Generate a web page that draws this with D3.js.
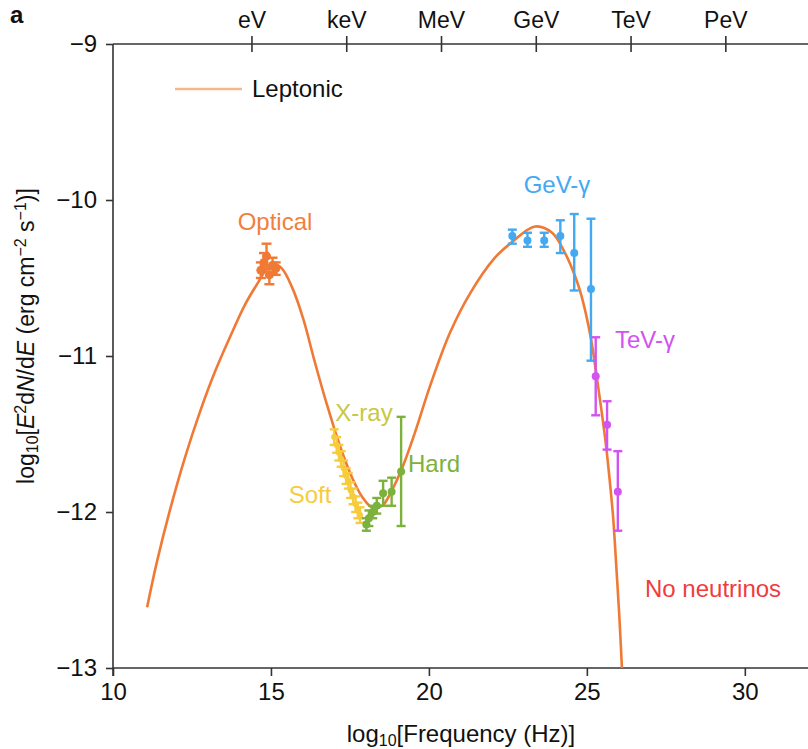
<!DOCTYPE html>
<html>
<head>
<meta charset="utf-8">
<script src="https://cdn.jsdelivr.net/npm/d3@7"></script>
<style>
  html, body { margin: 0; padding: 0; background: #fff; }
  svg { display: block; font-family: "Liberation Sans", Arial, Helvetica, sans-serif; }
</style>
</head>
<body>
<svg id="chart" width="808" height="749"></svg>
<script>
// Leptonic SED model curve (log10 frequency, log10 flux)
const modelLogNu   = [11.08, 11.39, 11.80, 12.28, 12.75, 13.23, 13.70, 14.18, 14.59, 14.84, 15.10, 15.35, 15.67, 16.02, 16.39, 16.77, 17.19, 17.57, 17.88, 18.20, 18.52, 18.83, 19.15, 19.56, 20.04, 20.67, 21.30, 22.09, 22.63, 23.36, 23.90, 24.31, 24.63, 24.78, 24.97, 25.13, 25.29, 25.45, 25.61, 25.73, 25.83, 25.92, 26.02, 26.11];
const modelLogFlux = [-12.61, -12.32, -11.99, -11.65, -11.36, -11.10, -10.88, -10.67, -10.53, -10.45, -10.41, -10.44, -10.56, -10.76, -11.04, -11.31, -11.58, -11.78, -11.90, -11.97, -11.96, -11.86, -11.72, -11.49, -11.19, -10.85, -10.60, -10.37, -10.27, -10.17, -10.21, -10.34, -10.49, -10.58, -10.73, -10.89, -11.10, -11.33, -11.58, -11.81, -12.03, -12.31, -12.64, -13.00];

// Optical photometry
const opticalLogNu   = [14.68, 14.78, 14.86, 14.95, 15.05, 15.15];
const opticalLogFlux = [-10.45, -10.40, -10.36, -10.48, -10.42, -10.44];
const opticalErr     = [0.05, 0.06, 0.08, 0.06, 0.05, 0.04];

// Soft X-ray
const softLogNu   = [17.00, 17.08, 17.15, 17.22, 17.30, 17.38, 17.45, 17.52, 17.60, 17.68, 17.75, 17.82];
const softLogFlux = [-11.52, -11.57, -11.62, -11.66, -11.72, -11.77, -11.80, -11.86, -11.90, -11.95, -11.99, -12.02];
const softErr     = [0.05, 0.05, 0.05, 0.05, 0.05, 0.05, 0.05, 0.05, 0.05, 0.05, 0.05, 0.05];

// Hard X-ray
const hardLogNu   = [18.02, 18.10, 18.22, 18.35, 18.55, 18.82, 19.12];
const hardLogFlux = [-12.08, -12.04, -12.00, -11.96, -11.88, -11.87, -11.74];
const hardErr     = [0.04, 0.05, 0.04, 0.05, 0.08, 0.09, 0.35];

// GeV gamma rays
const gevLogNu   = [22.64, 23.12, 23.65, 24.16, 24.60, 25.13];
const gevLogFlux = [-10.23, -10.26, -10.26, -10.23, -10.34, -10.57];
const gevErrLo   = [0.05, 0.04, 0.04, 0.11, 0.24, 0.46];
const gevErrHi   = [0.04, 0.05, 0.05, 0.10, 0.25, 0.45];

// TeV gamma rays
const tevLogNu   = [25.28, 25.64, 25.98];
const tevLogFlux = [-11.13, -11.44, -11.87];
const tevErrLo   = [0.25, 0.16, 0.25];
const tevErrHi   = [0.25, 0.15, 0.26];

// Axis ticks
const xTicks = [10, 15, 20, 25, 30];
const yTicks = [-9, -10, -11, -12, -13];
const energyLabels = ["eV", "keV", "MeV", "GeV", "TeV", "PeV"];
const energyLogNu  = [14.383, 17.383, 20.383, 23.383, 26.383, 29.383];

const colors = {
  model: "#f07a35",
  legend: "#f8b78a",
  optical: "#f07a35",
  opticalLabel: "#f0803e",
  soft: "#f6cc3c",
  xray: "#c9c83e",
  hard: "#7cb23c",
  gev: "#42a9f2",
  tev: "#d353f0",
  nu: "#f03c3c",
  axis: "#333"
};

const svg = d3.select("#chart");
const plotL = 113, plotR = 808, plotT = 44, plotB = 668;
const x = d3.scaleLinear().domain([10, 32]).range([plotL, plotR]);
const y = d3.scaleLinear().domain([-13, -9]).range([plotB, plotT]);

const fontSize = 24;
const subSize = 16;

// Axes
const axisBottom = svg.append("g").attr("transform", `translate(0,${plotB})`)
  .call(d3.axisBottom(x).tickValues(xTicks).tickSize(8).tickPadding(7).tickFormat(d3.format("d")));
const axisLeft = svg.append("g").attr("transform", `translate(${plotL},0)`)
  .call(d3.axisLeft(y).tickValues(yTicks).tickSize(7).tickPadding(9).tickFormat(d3.format("d")));
const axisTop = svg.append("g").attr("transform", `translate(0,${plotT})`)
  .call(d3.axisTop(x).tickValues(energyLogNu).tickSize(8).tickPadding(8).tickFormat((d, i) => energyLabels[i]));
axisTop.selectAll(".tick line").attr("y2", -8).clone().attr("y2", 8);

[axisBottom, axisLeft, axisTop].forEach(g => {
  g.select(".domain").attr("stroke", colors.axis).attr("stroke-width", 1.6);
  g.selectAll(".tick line").attr("stroke", colors.axis).attr("stroke-width", 1.6);
  g.selectAll(".tick text").attr("fill", "#111").style("font-size", fontSize + "px")
    .style("font-family", "'Liberation Sans', Arial, sans-serif");
});
axisTop.selectAll(".tick text").style("font-size", "23px");
// left axis line runs slightly past the bottom axis
axisLeft.select(".domain").attr("d", `M0,${plotT}V${plotB + 8}`);
axisBottom.select(".domain").attr("d", `M${plotL},0H${plotR}`);
axisTop.select(".domain").attr("d", `M${plotL},0H${plotR}`);

// Model curve
const modelPts = modelLogNu.map((v, i) => [v, modelLogFlux[i]]);
const line = d3.line().x(d => x(d[0])).y(d => y(d[1])).curve(d3.curveCatmullRom.alpha(0.5));
svg.append("path").datum(modelPts)
  .attr("d", line).attr("fill", "none")
  .attr("stroke", colors.model).attr("stroke-width", 2.6);

// Error bar drawing
function drawSeries(nu, flux, lo, hi, color, r, capW) {
  const g = svg.append("g");
  nu.forEach((v, i) => {
    const cx = x(v), y0 = y(flux[i] - lo[i]), y1 = y(flux[i] + hi[i]);
    g.append("line").attr("x1", cx).attr("x2", cx).attr("y1", y0).attr("y2", y1)
      .attr("stroke", color).attr("stroke-width", 2.4);
    [y0, y1].forEach(yy => g.append("line")
      .attr("x1", cx - capW / 2).attr("x2", cx + capW / 2).attr("y1", yy).attr("y2", yy)
      .attr("stroke", color).attr("stroke-width", 2.4));
    g.append("circle").attr("cx", cx).attr("cy", y(flux[i])).attr("r", r).attr("fill", color);
  });
}
drawSeries(opticalLogNu, opticalLogFlux, opticalErr, opticalErr, colors.optical, 4.5, 10);
drawSeries(softLogNu, softLogFlux, softErr, softErr, colors.soft, 3, 9);
drawSeries(hardLogNu, hardLogFlux, hardErr, hardErr, colors.hard, 4, 9);
drawSeries(gevLogNu, gevLogFlux, gevErrLo, gevErrHi, colors.gev, 4, 9);
drawSeries(tevLogNu, tevLogFlux, tevErrLo, tevErrHi, colors.tev, 4, 9);

// Legend
svg.append("line").attr("x1", 175).attr("x2", 242).attr("y1", 89).attr("y2", 89)
  .attr("stroke", colors.legend).attr("stroke-width", 2.6);
svg.append("text").attr("x", 252).attr("y", 97).text("Leptonic")
  .style("font-size", fontSize + "px").attr("fill", "#111");

// Panel letter
svg.append("text").attr("x", 10).attr("y", 23).text("a")
  .style("font-size", "24px").style("font-weight", "bold").attr("fill", "#111");

// Series labels
const labels = [
  { t: "Optical", x: 275, y: 230, c: colors.opticalLabel, a: "middle" },
  { t: "X-ray", x: 364, y: 421, c: colors.xray, a: "middle" },
  { t: "Soft", x: 310, y: 503, c: colors.soft, a: "middle" },
  { t: "Hard", x: 408, y: 472, c: colors.hard, a: "start" },
  { t: "GeV-γ", x: 557, y: 193, c: colors.gev, a: "middle" },
  { t: "TeV-γ", x: 615, y: 348, c: colors.tev, a: "start" },
  { t: "No neutrinos", x: 645, y: 597, c: colors.nu, a: "start" }
];
labels.forEach(l => svg.append("text").attr("x", l.x).attr("y", l.y).attr("text-anchor", l.a)
  .attr("fill", l.c).style("font-size", fontSize + "px").text(l.t));

// X axis title
const xt = svg.append("text").attr("x", 461).attr("y", 742).attr("text-anchor", "middle")
  .attr("fill", "#111").style("font-size", fontSize + "px");
xt.append("tspan").text("log");
xt.append("tspan").attr("baseline-shift", "-25%").style("font-size", subSize + "px").text("10");
xt.append("tspan").text("[Frequency (Hz)]");

// Y axis title
const yt = svg.append("text").attr("transform", "translate(34,336) rotate(-90)")
  .attr("text-anchor", "middle").attr("fill", "#111").style("font-size", "23px");
yt.append("tspan").text("log");
yt.append("tspan").attr("baseline-shift", "-25%").style("font-size", subSize + "px").text("10");
yt.append("tspan").text("[");
yt.append("tspan").style("font-style", "italic").text("E");
yt.append("tspan").attr("baseline-shift", "super").style("font-size", subSize + "px").text("2");
yt.append("tspan").text("d");
yt.append("tspan").style("font-style", "italic").text("N");
yt.append("tspan").text("/d");
yt.append("tspan").style("font-style", "italic").text("E");
yt.append("tspan").text(" (erg cm");
yt.append("tspan").attr("baseline-shift", "super").style("font-size", subSize + "px").text("−2");
yt.append("tspan").text(" s");
yt.append("tspan").attr("baseline-shift", "super").style("font-size", subSize + "px").text("−1");
yt.append("tspan").text(")]");
</script>
</body>
</html>
